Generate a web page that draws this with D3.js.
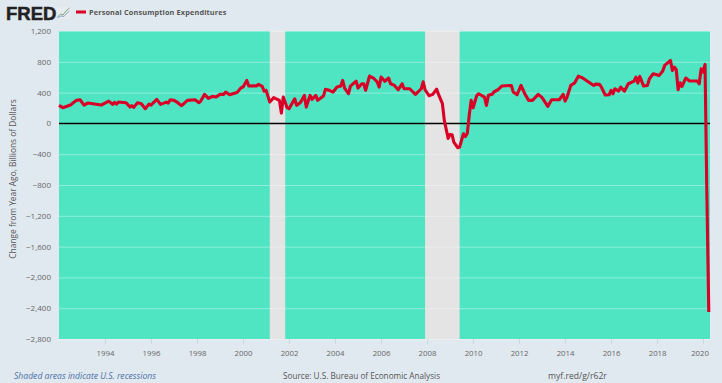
<!DOCTYPE html>
<html>
<head>
<meta charset="utf-8">
<script src="https://cdn.jsdelivr.net/npm/d3@7"></script>
<style>
  html, body { margin: 0; padding: 0; background: #e1e9f0; }
  svg { display: block; }
  text { font-family: "Open Sans", sans-serif; }
</style>
</head>
<body>
<div id="chart"></div>
<script>
const SERIES_NAME = 'Personal Consumption Expenditures';

const yTicks = [1200, 800, 400, 0, -400, -800, -1200, -1600, -2000, -2400, -2800];
const xTickYears = [1994, 1996, 1998, 2000, 2002, 2004, 2006, 2008, 2010, 2012, 2014, 2016, 2018, 2020];

const recessionStarts = ['2001-03', '2007-12'];
const recessionEnds = ['2001-11', '2009-06'];

const months = [
  '1992-01','1992-03','1992-07','1992-10','1992-12','1993-02','1993-04','1993-11','1994-03','1994-05',
  '1994-06','1994-07','1994-08','1994-12','1995-02','1995-03','1995-04','1995-06','1995-08','1995-10',
  '1995-12','1996-01','1996-04','1996-06','1996-09','1996-10','1996-11','1997-01','1997-03','1997-05',
  '1997-08','1997-12','1998-02','1998-03','1998-05','1998-07','1998-09','1998-11','1999-01','1999-03',
  '1999-04','1999-06','1999-09','1999-10','1999-12','2000-01','2000-03','2000-04','2000-07','2000-08',
  '2000-09','2000-11','2000-12','2001-01','2001-03','2001-05','2001-08','2001-09','2001-10','2001-12',
  '2002-01','2002-04','2002-05','2002-07','2002-09','2002-10','2002-12','2003-01','2003-03','2003-04',
  '2003-07','2003-08','2003-10','2003-12','2004-02','2004-04','2004-05','2004-06','2004-08','2004-09',
  '2004-12','2005-01','2005-03','2005-04','2005-05','2005-07','2005-09','2005-11','2005-12','2006-01',
  '2006-03','2006-05','2006-06','2006-08','2006-10','2006-12','2007-01','2007-04','2007-07','2007-10',
  '2007-11','2007-12','2008-02','2008-04','2008-06','2008-07','2008-09','2008-10','2008-12','2009-01',
  '2009-02','2009-03','2009-05','2009-06','2009-08','2009-09','2009-10','2009-11','2009-12','2010-01',
  '2010-03','2010-04','2010-07','2010-08','2010-09','2010-11','2010-12','2011-02','2011-04','2011-09',
  '2011-10','2011-12','2012-02','2012-04','2012-06','2012-08','2012-11','2013-01','2013-04','2013-06',
  '2013-10','2013-12','2014-01','2014-02','2014-04','2014-06','2014-08','2014-10','2015-02','2015-04',
  '2015-05','2015-07','2015-08','2015-10','2015-12','2016-01','2016-02','2016-03','2016-05','2016-06',
  '2016-08','2016-10','2017-01','2017-02','2017-03','2017-04','2017-06','2017-08','2017-09','2017-11',
  '2018-02','2018-04','2018-05','2018-07','2018-08','2018-09','2018-10','2018-11','2018-12','2019-01',
  '2019-02','2019-04','2019-06','2019-09','2019-10','2019-11','2019-12','2020-01','2020-02','2020-03',
  '2020-04'
];

const pceChange = [
  234,204,238,299,307,238,264,238,290,247,
  273,251,277,269,212,230,208,269,256,191,
  251,238,312,247,277,264,307,299,269,230,
  299,307,269,290,377,325,351,342,377,377,
  407,372,394,403,463,472,558,485,489,485,
  507,480,420,429,277,334,299,134,342,204,
  191,320,234,270,364,212,364,312,364,299,
  355,442,429,407,472,485,558,459,385,485,
  550,459,515,515,429,615,589,537,472,602,
  547,589,515,493,437,515,450,450,377,450,
  541,437,359,377,445,377,256,39,-195,-143,
  -147,-243,-316,-308,-134,-170,-130,104,299,204,
  364,385,342,234,364,377,411,437,485,493,
  407,372,493,385,299,299,377,334,221,307,
  307,377,290,342,493,524,615,593,524,493,
  510,507,470,368,372,429,385,450,420,472,
  420,515,550,602,524,610,485,493,580,645,
  623,680,753,796,818,688,731,700,437,528,
  480,589,550,550,550,515,710,667,766,-900,
  -2450
];

const width = 722;
const height = 383;
const margin = { top: 31, right: 12, bottom: 44, left: 59 };
const parseMonth = d3.timeParse('%Y-%m');

const svg = d3.select('#chart').append('svg')
  .attr('width', width)
  .attr('height', height);

// domain runs a little past the last month so the final drop sits inside the plot edge
const x = d3.scaleTime()
  .domain([parseMonth('1992-01'), new Date(2020, 3, 20)])
  .range([margin.left, width - margin.right]);

const y = d3.scaleLinear()
  .domain([-2800, 1200])
  .range([height - margin.bottom, margin.top]);

// plot background
svg.append('rect')
  .attr('x', margin.left)
  .attr('y', margin.top)
  .attr('width', width - margin.left - margin.right)
  .attr('height', height - margin.top - margin.bottom)
  .attr('fill', '#50e5c2');

// recessions
svg.selectAll('.recession')
  .data(recessionStarts)
  .enter()
  .append('rect')
  .attr('class', 'recession')
  .attr('x', d => x(parseMonth(d)))
  .attr('y', margin.top)
  .attr('width', (d, i) => x(parseMonth(recessionEnds[i])) - x(parseMonth(d)))
  .attr('height', height - margin.top - margin.bottom)
  .attr('fill', '#e4e4e4');

// y axis + gridlines
const yAxis = svg.append('g')
  .attr('transform', `translate(${margin.left},0)`)
  .call(d3.axisLeft(y)
    .tickValues(yTicks)
    .tickSize(-(width - margin.left - margin.right))
    .tickPadding(8)
    .tickFormat(d3.format(',')));
yAxis.select('.domain').remove();
yAxis.selectAll('line')
  .attr('stroke', '#fff')
  .attr('stroke-opacity', 0.35)
  .attr('stroke-width', 1);
yAxis.selectAll('text')
  .attr('fill', '#666')
  .style('font-size', '8px');

// x axis
const xAxis = svg.append('g')
  .attr('transform', `translate(0,${height - margin.bottom})`)
  .call(d3.axisBottom(x)
    .tickValues(xTickYears.map(d => new Date(d, 0, 1)))
    .tickSize(5)
    .tickPadding(6)
    .tickFormat(d3.timeFormat('%Y')));
xAxis.select('.domain').remove();
xAxis.selectAll('line').attr('stroke', '#ccd6df');
xAxis.selectAll('text')
  .attr('fill', '#666')
  .style('font-size', '7.8px')
  .attr('dx', d => d.getFullYear() === 2020 ? -3.5 : 0);

// zero line
svg.append('line')
  .attr('x1', margin.left)
  .attr('x2', width - margin.right)
  .attr('y1', y(0))
  .attr('y2', y(0))
  .attr('stroke', '#000')
  .attr('stroke-width', 1.5);

// series
const line = d3.line()
  .x((d, i) => x(parseMonth(months[i])))
  .y(d => y(d));

svg.append('path')
  .datum(pceChange)
  .attr('d', line)
  .attr('fill', 'none')
  .attr('stroke', '#d80027')
  .attr('stroke-width', 3.1)
  .attr('stroke-linejoin', 'round');

// y title
svg.append('text')
  .attr('transform', `translate(16,179) rotate(-90)`)
  .attr('text-anchor', 'middle')
  .attr('fill', '#555')
  .style('font-size', '8.4px')
  .text('Change from Year Ago, Billions of Dollars');

// logo
svg.append('text')
  .attr('x', 6)
  .attr('y', 20)
  .attr('fill', '#222')
  .attr('stroke', '#222')
  .attr('stroke-width', 0.5)
  .style('font-family', '"Liberation Sans", sans-serif')
  .style('font-weight', 700)
  .style('font-size', '18.5px')
  .text('FRED');

const logoIcon = svg.append('g').attr('transform', 'translate(57,7)');
logoIcon.append('rect')
  .attr('width', 13)
  .attr('height', 12)
  .attr('fill', '#e8ecef');
logoIcon.append('path')
  .attr('d', 'M0.5,10 L3.5,7 L6,8 L9,4 L12.5,1')
  .attr('fill', 'none')
  .attr('stroke', '#7fa37a')
  .attr('stroke-width', 1);
logoIcon.append('path')
  .attr('d', 'M0.5,11 L4,9 L7,9.5 L10,6 L12.5,4')
  .attr('fill', 'none')
  .attr('stroke', '#8aa8c8')
  .attr('stroke-width', 1);

// legend
svg.append('line')
  .attr('x1', 76)
  .attr('x2', 86)
  .attr('y1', 12)
  .attr('y2', 12)
  .attr('stroke', '#d80027')
  .attr('stroke-width', 3);

svg.append('text')
  .attr('x', 89)
  .attr('y', 15)
  .attr('fill', '#555')
  .style('font-weight', 700)
  .style('font-size', '7.3px')
  .style('letter-spacing', '0.15px')
  .text(SERIES_NAME);

// footer
svg.append('text')
  .attr('x', 14)
  .attr('y', 379)
  .attr('fill', '#4a6fa5')
  .style('font-style', 'italic')
  .style('font-size', '8.6px')
  .text('Shaded areas indicate U.S. recessions');

svg.append('text')
  .attr('x', 283)
  .attr('y', 379)
  .attr('fill', '#555')
  .style('font-size', '8.2px')
  .text('Source: U.S. Bureau of Economic Analysis');

svg.append('text')
  .attr('x', 548)
  .attr('y', 379)
  .attr('fill', '#555')
  .style('font-size', '8.6px')
  .text('myf.red/g/r62r');
</script>
</body>
</html>
